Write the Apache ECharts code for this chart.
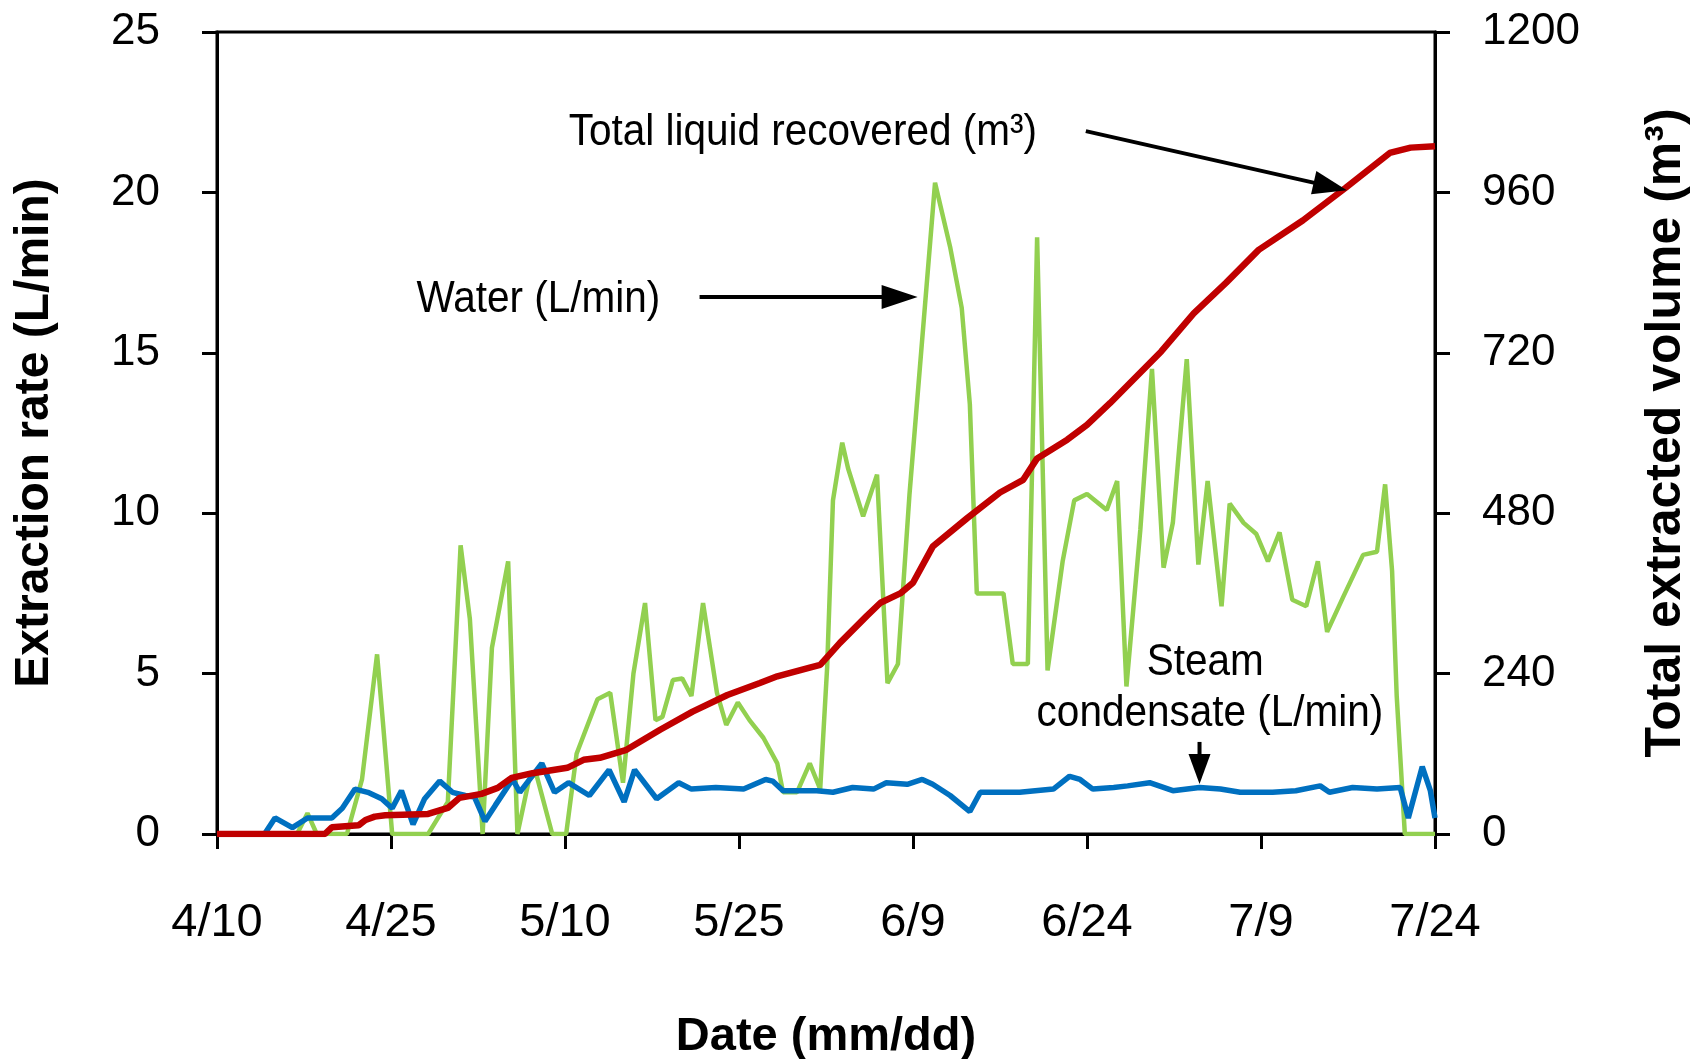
<!DOCTYPE html>
<html>
<head>
<meta charset="utf-8">
<script src="https://cdn.jsdelivr.net/npm/echarts@6/dist/echarts.min.js"></script>
<style>
  html, body { margin: 0; padding: 0; background: #fff; }
  #chart { width: 1703px; height: 1059px; }
</style>
</head>
<body>
<div id="chart"></div>
<script>
// Date axis: days counted from 4/10, ticks every 15 days
const dateTicks = ['4/10', '4/25', '5/10', '5/25', '6/9', '6/24', '7/9', '7/24'];

// Water extraction rate (L/min)
const waterDays = [0, 6.9, 7.8, 8.6, 11.2, 12.5, 13.4, 13.8, 14.3, 15.1, 18.2, 19.9, 21.0, 21.8, 22.9,
  23.7, 25.1, 25.9, 26.9, 27.5, 28.9, 30.1, 31.0, 32.8, 33.9, 35.0, 35.9, 36.9, 37.8, 38.4,
  39.3, 40.1, 40.9, 41.9, 43.1, 43.9, 44.9, 45.9, 47.1, 48.3, 48.8, 50.0, 51.1, 52.0, 52.6,
  53.1, 53.9, 54.4, 55.7, 56.9, 57.8, 58.7, 59.7, 61.9, 63.2, 64.2, 64.9, 65.5, 67.8, 68.6,
  69.9, 70.7, 71.6, 72.9, 73.9, 75.0, 76.7, 77.6, 78.4, 79.6, 80.6, 81.6, 82.4, 83.6, 84.6,
  85.4, 86.6, 87.3, 88.5, 89.6, 90.6, 91.6, 92.7, 93.9, 94.9, 95.7, 97.1, 98.8, 100.0, 100.7,
  101.3, 101.7, 102.4, 105];
const waterRate = [0, 0, 0.65, 0, 0, 1.7, 4.4, 5.6, 3.5, 0, 0, 1.0, 9.0, 6.7, 0,
  5.8, 8.5, 0, 1.7, 1.9, 0, 0, 2.5, 4.2, 4.4, 1.6, 5.0, 7.2, 3.55, 3.65,
  4.8, 4.85, 4.3, 7.2, 4.4, 3.4, 4.1, 3.55, 3.0, 2.2, 1.3, 1.3, 2.2, 1.4, 5.2,
  10.4, 12.2, 11.4, 9.9, 11.2, 4.7, 5.3, 10.6, 20.3, 18.3, 16.4, 13.4, 7.5, 7.5, 5.3,
  5.3, 18.6, 5.1, 8.5, 10.4, 10.6, 10.1, 11.0, 4.6, 9.5, 14.5, 8.3, 9.7, 14.8, 8.4,
  11.0, 7.1, 10.3, 9.7, 9.35, 8.5, 9.4, 7.3, 7.1, 8.5, 6.3, 7.4, 8.7, 8.8, 10.9,
  8.2, 4.3, 0, 0];

// Steam condensate extraction rate (L/min)
const condDays = [0, 4.1, 5.0, 6.5, 7.8, 9.9, 10.8, 11.9, 13.0, 14.2, 15.1, 15.9, 16.9, 17.9, 19.2,
  20.3, 21.4, 22.2, 23.1, 24.0, 25.1, 25.5, 26.1, 28.0, 29.1, 30.3, 32.1, 33.8, 35.1, 36.0,
  37.9, 39.8, 40.9, 43.0, 45.4, 47.3, 47.9, 48.8, 50.3, 51.7, 53.1, 54.8, 56.6, 57.7, 59.5,
  60.8, 61.7, 63.2, 64.9, 65.8, 67.5, 69.2, 72.1, 73.5, 74.4, 75.5, 77.3, 78.5, 80.4, 82.4,
  84.7, 86.5, 88.2, 91.0, 93.0, 95.1, 95.9, 97.9, 100.0, 102.0, 102.7, 103.9, 104.6, 105];
const condRate = [0, 0, 0.5, 0.2, 0.5, 0.5, 0.8, 1.4, 1.3, 1.1, 0.8, 1.35, 0.3, 1.1, 1.65,
  1.3, 1.2, 1.15, 0.4, 0.9, 1.5, 1.7, 1.3, 2.2, 1.3, 1.6, 1.2, 2.0, 1.0, 2.0,
  1.1, 1.6, 1.4, 1.45, 1.4, 1.7, 1.65, 1.35, 1.35, 1.35, 1.3, 1.45, 1.4, 1.6, 1.55,
  1.7, 1.55, 1.2, 0.7, 1.3, 1.3, 1.3, 1.4, 1.8, 1.7, 1.4, 1.45, 1.5, 1.6, 1.35,
  1.45, 1.4, 1.3, 1.3, 1.35, 1.5, 1.3, 1.45, 1.4, 1.45, 0.5, 2.1, 1.35, 0.5];

// Cumulative liquid recovered (m³)
const totalDays = [0, 9.3, 9.9, 12.2, 12.8, 13.6, 14.5, 18.2, 19.9, 20.9, 22.8, 24.2, 25.4, 27.2, 30.2,
  31.6, 33.0, 35.3, 38.2, 41.0, 44.0, 46.8, 48.3, 51.1, 52.0, 53.7, 56.0, 57.2, 58.9, 60.0,
  61.7, 64.7, 67.5, 69.5, 70.7, 73.3, 75.0, 77.0, 78.6, 81.4, 84.2, 87.0, 89.8, 93.6, 97.3,
  101.1, 102.9, 105];
const totalVolume = [0, 0, 10, 13, 21, 26, 28, 30, 39, 54, 60, 69, 84, 91, 99,
  111, 114, 126, 156, 183, 208, 226, 236, 249, 253, 286, 326, 346, 360, 376,
  430, 473, 511, 530, 562, 590, 612, 645, 673, 722, 779, 825, 874, 918, 967,
  1019, 1027, 1029];

// Callout labels and arrows, in (day, L/min) coordinates
const calloutTexts = [
  { text: 'Total liquid recovered (m³)', at: [50.5, 21.85] },
  { text: 'Water (L/min)', at: [27.7, 16.65] },
  { text: 'Steam', at: [85.2, 5.33] },
  { text: 'condensate (L/min)', at: [85.6, 3.74] }
];
const calloutArrows = [
  { from: [74.9, 21.91], to: [97.4, 20.07], head: 34, width: 24 },
  { from: [41.6, 16.74], to: [60.4, 16.74], head: 36, width: 24 },
  { from: [84.7, 2.87], to: [84.7, 1.56], head: 30, width: 22 }
];

const SANS = "'Liberation Sans', Arial, sans-serif";

const pairs = (xs, ys) => xs.map((x, i) => [x, ys[i]]);

const chart = echarts.init(document.getElementById('chart'), null, { renderer: 'canvas' });

const axisLine = { show: true, lineStyle: { color: '#000', width: 3 } };
const axisTick = { show: true, inside: false, length: 15, lineStyle: { color: '#000', width: 3 } };

chart.setOption({
  animation: false,
  backgroundColor: '#fff',
  grid: {
    left: 217, right: 268, top: 32, bottom: 225,
    outerBoundsMode: 'none', containLabel: false,
    show: true, borderColor: '#000', borderWidth: 3, backgroundColor: 'transparent'
  },
  xAxis: {
    type: 'value', min: 0, max: 105, interval: 15,
    splitLine: { show: false },
    axisLine: axisLine, axisTick: axisTick,
    axisLabel: {
      formatter: v => dateTicks[Math.round(v / 15)],
      fontFamily: SANS, fontSize: 47, color: '#000', margin: 66
    },
    name: 'Date (mm/dd)', nameLocation: 'middle', nameGap: 180,
    nameTextStyle: { fontFamily: SANS, fontWeight: 'bold', fontSize: 47, color: '#000' }
  },
  yAxis: [
    {
      type: 'value', min: 0, max: 25, interval: 5, position: 'left',
      splitLine: { show: false },
      axisLine: axisLine, axisTick: axisTick,
      axisLabel: { fontFamily: SANS, fontSize: 44, color: '#000', margin: 57 },
      name: 'Extraction rate (L/min)', nameLocation: 'middle', nameGap: 158, nameRotate: 90,
      nameTextStyle: { fontFamily: SANS, fontWeight: 'bold', fontSize: 48, color: '#000' }
    },
    {
      type: 'value', min: 0, max: 1200, interval: 240, position: 'right',
      splitLine: { show: false },
      axisLine: axisLine, axisTick: axisTick,
      axisLabel: { formatter: v => String(v), fontFamily: SANS, fontSize: 44, color: '#000', margin: 47 },
      name: 'Total extracted volume (m³)', nameLocation: 'middle', nameGap: 206, nameRotate: 90,
      nameTextStyle: { fontFamily: SANS, fontWeight: 'bold', fontSize: 50, color: '#000' }
    }
  ],
  series: [
    {
      name: 'Water (L/min)', type: 'line', yAxisIndex: 0, data: pairs(waterDays, waterRate),
      showSymbol: false, smooth: false, lineStyle: { color: '#92D050', width: 4.5 }, z: 2
    },
    {
      name: 'Steam condensate (L/min)', type: 'line', yAxisIndex: 0, data: pairs(condDays, condRate),
      showSymbol: false, smooth: false, lineStyle: { color: '#0070C0', width: 5.5 }, z: 3
    },
    {
      name: 'Total liquid recovered (m³)', type: 'line', yAxisIndex: 1, data: pairs(totalDays, totalVolume),
      showSymbol: false, smooth: false, lineStyle: { color: '#C00000', width: 6.5 }, z: 4
    }
  ]
});

// Callouts: convert data coordinates to pixels and draw text + arrows
const toPx = p => chart.convertToPixel({ xAxisIndex: 0, yAxisIndex: 0 }, p);
const elements = [];
calloutTexts.forEach(c => {
  const p = toPx(c.at);
  elements.push({
    type: 'text', x: p[0], y: p[1], scaleX: 0.9, z: 100,
    style: { text: c.text, fontFamily: SANS, fontSize: 45, fill: '#000', align: 'center', verticalAlign: 'middle' }
  });
});
calloutArrows.forEach(a => {
  const p0 = toPx(a.from), p1 = toPx(a.to);
  const dx = p1[0] - p0[0], dy = p1[1] - p0[1];
  const len = Math.hypot(dx, dy), ux = dx / len, uy = dy / len;
  const bx = p1[0] - ux * a.head, by = p1[1] - uy * a.head;
  const nx = -uy, ny = ux, hw = a.width / 2;
  elements.push({
    type: 'line', z: 100,
    shape: { x1: p0[0], y1: p0[1], x2: bx + ux * 2, y2: by + uy * 2 },
    style: { stroke: '#000', lineWidth: 4 }
  });
  elements.push({
    type: 'polygon', z: 100,
    shape: { points: [[p1[0], p1[1]], [bx + nx * hw, by + ny * hw], [bx - nx * hw, by - ny * hw]] },
    style: { fill: '#000' }
  });
});
chart.setOption({ graphic: elements });
</script>
</body>
</html>
